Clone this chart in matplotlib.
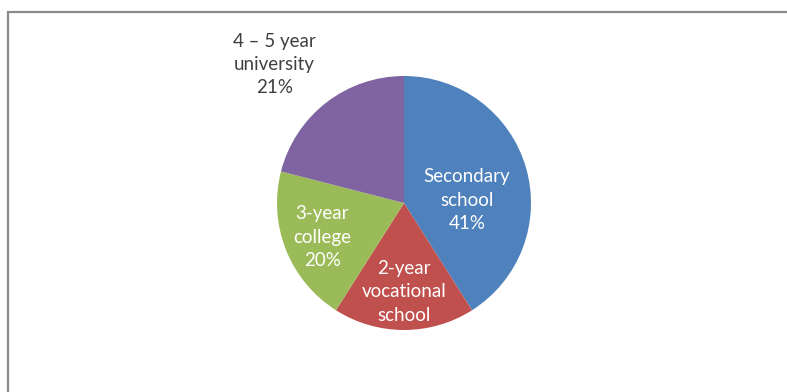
import numpy as np
import matplotlib.pyplot as plt
from matplotlib.patches import Rectangle

# education level shares (%), clockwise from 12 o'clock
levels = ["Secondary\nschool", "2-year\nvocational\nschool", "3-year\ncollege", "4 \u2013 5 year\nuniversity"]
shares = [41, 18, 20, 21]
colors = ["#4F81BD", "#C0504D", "#9BBB59", "#8064A2"]
show_pct = [True, False, True, True]

W, H = 787, 392
fig = plt.figure(figsize=(W / 100, H / 100), dpi=100)
plt.rcParams['font.family'] = ['Lato', 'DejaVu Sans']

# chart frame
fig.patches.append(Rectangle((8 / W, -0.05), 1.2, 1 - 12 / H + 0.05,
                             transform=fig.transFigure, fill=False,
                             edgecolor="#8a8a8a", linewidth=1.6))

cx, cy, r = 404, 203, 127
ax = fig.add_axes([(cx - r) / W, (H - cy - r) / H, 2 * r / W, 2 * r / H])
wedges, _ = ax.pie(shares, colors=colors, startangle=90, counterclock=False,
                   wedgeprops=dict(linewidth=0))
ax.set_aspect("equal")
ax.set_xlim(-1, 1)
ax.set_ylim(-1, 1)

# label radius along each wedge's mid angle, plus a small shift
label_r = [0.58, 0.70, 0.66, 1.42]
label_nudge = [(-0.06, -0.14), (0.0, 0.0), (-0.03, -0.025), (-0.15, -0.03)]
for w, lab, s, lr, pct, (dx, dy) in zip(wedges, levels, shares, label_r, show_pct, label_nudge):
    ang = np.deg2rad((w.theta1 + w.theta2) / 2)
    x = lr * np.cos(ang) + dx
    y = lr * np.sin(ang) + dy
    txt = lab + (f"\n{s}%" if pct else "")
    inside = lr < 1
    ax.text(x, y, txt, ha="center", va="center", fontsize=13.5,
            color="white" if inside else "#404040", linespacing=1.45,
            clip_on=False)

fig.savefig("out.png", dpi=100)
